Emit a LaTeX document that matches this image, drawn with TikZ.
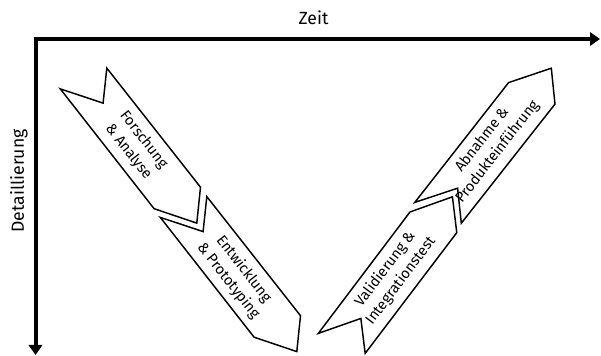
\documentclass[tikz,border=0pt]{standalone}
\usepackage{fontspec}
\setmainfont{Fira Sans}
\usetikzlibrary{arrows.meta}

\tikzset{
  axis/.style = {line width=3pt, line join=miter,
    {Triangle[length=7.5pt,width=10pt]}-{Triangle[length=7.5pt,width=10pt]}},
  axislabel/.style = {font=\fontsize{13.2}{16}\selectfont, inner sep=0pt},
  phaseline/.style = {draw, line width=1.1pt, line join=miter, fill=white},
  phasetext/.style = {align=center, font=\fontsize{11}{14.5}\selectfont, inner sep=0pt},
  phase/.pic = {
    \draw[phaseline] (-74.7,-57.1) -- (-31.9,-42.9) -- (-28.2,-77.9)
      -- (65.5,41.2) -- (61.8,77.1) -- (19.1,62.7) -- cycle;
  }
}

\begin{document}
\begin{tikzpicture}[x=0.75pt, y=-0.75pt]
  \useasboundingbox (0,0) rectangle (601,356);

  % axes
  \coordinate (origin) at (35.5,39);
  \coordinate (tend) at (600,39);
  \coordinate (dend) at (35.5,355);
  \draw[axis] (tend) -- (origin) -- (dend);
  \node[axislabel] (zeit) at (313.5,18) {Zeit};
  \node[axislabel, rotate=90] (detail) at (19,181) {Detaillierung};

  % phases
  \pic at (135,146) {phase};
  \pic at (235,274.5) {phase};
  \pic[rotate=1, yscale=-1] at (392,275) {phase};
  \pic[yscale=-1] at (489.5,145.3) {phase};

  \node[phasetext, rotate=-52] (forschung) at (136,146) {Forschung\\ \& Analyse};
  \node[phasetext, rotate=-52] (entwicklung) at (236,275) {Entwicklung\\ \& Prototyping};
  \node[phasetext, rotate=53] (validierung) at (393,275) {Validierung \&\\ Integrationstest};
  \node[phasetext, rotate=52] (abnahme) at (490,146) {Abnahme \&\\ Produkteinführung};

\end{tikzpicture}
\end{document}
